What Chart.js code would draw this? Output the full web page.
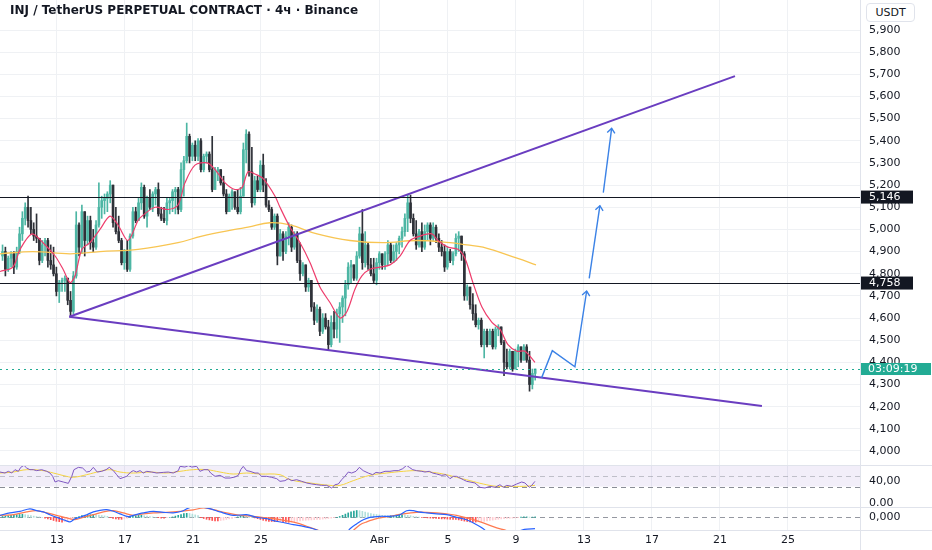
<!DOCTYPE html>
<html>
<head>
<meta charset="utf-8">
<script src="https://cdn.jsdelivr.net/npm/chart.js@4.4.1/dist/chart.umd.min.js"></script>
<style>
  html, body { margin: 0; padding: 0; background: #fff; }
  body { position: relative; width: 932px; height: 550px; overflow: hidden; font-family: 'DejaVu Sans', sans-serif; }
  canvas { position: absolute; left: 0; }
  #c-main { top: 0; }
  #c-rsi { top: 458px; }
  #c-macd { top: 507px; }
  .hsep { position: absolute; left: 0; width: 932px; height: 1px; background: #e0e3eb; }
  #vsep { position: absolute; left: 860px; top: 0; width: 1px; height: 550px; background: #e0e3eb; }
  #title { position: absolute; left: 10px; top: 3px; font-size: 12px; font-weight: bold; color: #131722; white-space: nowrap; }
  #unit { position: absolute; left: 866px; top: 3px; width: 47px; height: 17px; border: 1px solid #e0e3eb; border-radius: 4px;
          font-size: 11px; line-height: 17px; text-align: center; color: #131722; background: #fff; }
</style>
</head>
<body>
<canvas id="c-main" width="932" height="465"></canvas>
<canvas id="c-rsi" width="932" height="56"></canvas>
<canvas id="c-macd" width="932" height="43"></canvas>
<div class="hsep" style="top:465px"></div>
<div class="hsep" style="top:507px"></div>
<div class="hsep" style="top:530px"></div>
<div id="vsep"></div>
<div id="title">INJ / TetherUS PERPETUAL CONTRACT · 4ч · Binance</div>
<div id="unit">USDT</div>
<script>
// ---- data (days counted from 1 Jul = 1, so 1 Aug = 32) ----
const candleStart = 9.8;        // first visible 4h candle
const candleStep = 1 / 6;       // 4h
const firstOpen = 4.88;

const closes = [
  4.90,4.82,4.87,4.89,4.83,4.90,4.98,5.05,5.10,5.04,5.00,4.97,
  4.96,4.86,4.93,4.95,4.86,4.84,4.80,4.72,4.76,4.77,4.78,4.68,
  4.63,4.79,5.02,4.92,5.08,4.95,5.04,4.94,4.92,5.02,5.10,5.13,
  5.14,5.16,5.20,5.03,4.99,4.95,4.85,4.90,4.82,4.97,5.08,5.04,
  5.12,5.19,5.06,5.14,5.10,5.16,5.18,5.07,5.05,5.04,5.12,5.13,
  5.17,5.18,5.09,5.27,5.31,5.42,5.33,5.38,5.33,5.40,5.27,5.33,
  5.34,5.27,5.18,5.26,5.27,5.21,5.16,5.08,5.15,5.17,5.10,5.08,
  5.15,5.36,5.43,5.26,5.12,5.22,5.18,5.29,5.20,5.11,5.09,5.01,
  5.06,
  4.88,4.98,4.90,4.97,5.01,4.92,4.98,4.86,4.80,4.84,4.74,4.77,
  4.65,4.59,4.64,4.54,4.60,4.56,4.48,4.58,4.55,4.62,4.65,4.69,
  4.75,4.83,4.84,4.78,4.88,4.98,4.85,4.93,4.84,4.80,4.77,4.85,
  4.89,4.84,4.89,4.93,4.86,4.90,4.93,4.96,4.99,5.05,5.12,
  5.05,4.98,4.93,4.99,4.92,4.99,5.02,4.96,5.01,4.96,4.92,4.90,
  4.83,4.90,4.86,4.89,4.96,4.97,4.89,4.70,4.74,4.66,4.62,4.57,
  4.59,4.48,4.54,4.48,4.54,4.47,4.55,4.56,4.49,4.40,4.38,4.45,
  4.37,4.45,4.47,4.41,4.47,4.41,4.30,4.35,4.37
];
const highs = [
  4.93,4.92,4.88,4.90,4.90,4.92,5.01,5.08,5.12,5.15,5.10,5.03,
  5.07,4.96,4.95,4.96,4.96,4.93,4.92,4.83,4.77,4.78,4.79,4.78,
  4.72,4.81,5.08,5.03,5.11,5.08,5.06,5.06,5.00,5.04,5.21,5.15,
  5.16,5.17,5.22,5.20,5.10,5.06,4.96,4.91,4.95,4.98,5.10,5.10,
  5.14,5.21,5.20,5.15,5.18,5.17,5.19,5.21,5.10,5.10,5.14,5.14,
  5.18,5.19,5.19,5.30,5.33,5.48,5.43,5.39,5.40,5.41,5.41,5.34,
  5.35,5.35,5.42,5.28,5.28,5.27,5.24,5.18,5.16,5.18,5.17,5.18,
  5.19,5.39,5.45,5.44,5.37,5.24,5.24,5.31,5.34,5.23,5.13,5.10,
  5.07,
  5.07,5.00,4.99,4.99,5.03,5.02,4.99,4.99,4.94,4.85,4.84,4.78,
  4.77,4.67,4.66,4.65,4.62,4.62,4.59,4.61,4.63,4.64,4.67,4.70,
  4.77,4.85,4.86,4.84,4.90,5.01,5.09,4.99,4.94,4.87,4.87,4.87,
  4.90,4.89,4.90,4.95,4.94,4.93,4.94,4.97,5.01,5.07,5.155,
  5.155,5.07,5.04,5.00,5.03,5.02,5.03,5.03,5.03,5.02,4.98,4.95,
  4.93,4.92,4.91,4.90,4.98,4.99,4.97,4.90,4.75,4.74,4.71,4.66,
  4.60,4.60,4.55,4.55,4.55,4.55,4.56,4.57,4.56,4.50,4.46,4.46,
  4.45,4.46,4.48,4.47,4.48,4.48,4.45,4.37,4.37
];
const lows = [
  4.86,4.79,4.81,4.83,4.80,4.82,4.89,4.95,5.02,5.01,4.98,4.95,
  4.94,4.84,4.85,4.88,4.83,4.82,4.79,4.70,4.67,4.72,4.72,4.66,
  4.61,4.62,4.78,4.88,4.89,4.88,4.93,4.91,4.90,4.91,5.01,5.05,
  5.07,5.08,5.12,5.01,4.98,4.94,4.84,4.82,4.81,4.81,4.96,5.03,
  5.04,5.09,5.05,5.01,5.09,5.08,5.11,5.06,5.04,5.03,5.02,5.07,
  5.08,5.07,5.07,5.08,5.15,5.30,5.30,5.31,5.31,5.31,5.26,5.26,
  5.30,5.26,5.17,5.18,5.22,5.20,5.15,5.07,5.08,5.09,5.09,5.07,
  5.07,5.15,5.30,5.24,5.10,5.11,5.17,5.17,5.17,5.10,5.08,5.00,
  5.00,
  4.84,4.88,4.86,4.89,4.93,4.90,4.91,4.85,4.77,4.79,4.72,4.72,
  4.63,4.57,4.58,4.52,4.53,4.55,4.455,4.47,4.51,4.51,4.49,4.58,
  4.61,4.73,4.76,4.77,4.77,4.87,4.82,4.83,4.82,4.79,4.76,4.75,
  4.82,4.82,4.82,4.84,4.85,4.85,4.86,4.89,4.92,4.97,4.99,
  5.03,4.97,4.91,4.92,4.90,4.91,4.95,4.93,4.95,4.94,4.90,4.88,
  4.81,4.82,4.85,4.84,4.88,4.90,4.86,4.68,4.68,4.64,4.59,4.56,
  4.55,4.47,4.42,4.47,4.48,4.46,4.46,4.52,4.48,4.34,4.37,4.37,
  4.36,4.37,4.38,4.40,4.41,4.40,4.27,4.28,4.32
];

// moving averages on the price pane
const emaDays = [9.65,10.41,10.83,11.53,12.18,12.89,13.36,13.77,14.06,14.47,14.94,15.53,16.12,16.59,17.18,17.77,18.0,18.77,19.53,20.12,
  20.53,21.12,21.83,22.3,22.89,23.47,23.89,24.24,24.65,25.12,25.83,26.12,26.71,27.3,27.89,28.47,29.06,29.65,30.06,30.53,
  30.94,31.41,32.0,32.59,33.18,33.77,34.36,35.06,35.41,36.0,36.59,37.0,37.47,38.0,38.59,39.06,39.53,40.06,40.53,41.12];
const emaVals = [4.81,4.83,4.91,4.98,4.94,4.88,4.82,4.76,4.79,4.91,4.94,5.00,5.06,5.02,4.95,5.04,5.06,5.10,5.09,5.11,
  5.21,5.29,5.30,5.27,5.21,5.18,5.19,5.26,5.25,5.23,5.15,5.10,5.01,4.94,4.85,4.74,4.67,4.60,4.63,4.73,
  4.79,4.82,4.83,4.84,4.88,4.95,4.97,4.98,4.95,4.92,4.91,4.87,4.76,4.65,4.58,4.55,4.48,4.45,4.45,4.40];
const maDays = [9.65,11.59,13.77,15.53,17.77,20.12,21.53,23.47,24.24,25.53,26.71,28.3,30.24,32.18,34.18,36.12,37.12,38.06,40.06,41.18];
const maVals = [4.89,4.90,4.89,4.90,4.91,4.94,4.97,5.00,5.01,5.03,5.02,4.98,4.95,4.94,4.95,4.94,4.93,4.92,4.87,4.84];

// drawings
const levels = [5.146, 4.758];
const upperDays = [13.726, 52.885], upperVals = [4.606, 5.692];
const lowerDays = [13.726, 54.47],  lowerVals = [4.606, 4.203];
const arrow1Days = [41.51, 42.14, 43.47, 44.16], arrow1Vals = [4.330, 4.453, 4.380, 4.722];
const arrow2Days = [44.31, 44.94], arrow2Vals = [4.779, 5.107];
const arrow3Days = [45.14, 45.63], arrow3Vals = [5.166, 5.456];
const countdown = '03:09:19';

// RSI pane
const rsiDays = [9.65,9.94,10.14,10.34,10.53,10.73,10.87,11.06,11.22,11.41,11.61,11.81,12.10,12.40,12.59,12.75,12.89,13.08,13.37,13.67,
  13.87,14.00,14.26,14.51,14.75,14.94,15.14,15.37,15.63,15.89,16.08,16.32,16.51,16.71,16.94,17.10,17.34,17.49,17.69,17.89,
  18.08,18.28,18.57,18.87,19.26,19.55,19.84,20.14,20.24,20.53,20.73,20.93,21.22,21.41,21.65,21.90,22.04,22.30,22.59,22.89,
  23.18,23.47,23.67,23.81,23.96,24.16,24.36,24.65,24.84,25.04,25.34,25.63,25.93,26.12,26.41,26.61,26.81,27.10,27.40,27.69,
  27.99,28.28,28.57,28.87,29.16,29.36,29.55,29.75,29.94,30.14,30.34,30.59,30.79,31.02,31.31,31.57,31.77,32.00,32.30,32.59,
  32.83,33.08,33.34,33.57,33.73,33.93,34.16,34.46,34.65,34.90,35.10,35.34,35.63,35.89,36.12,36.32,36.51,36.71,36.90,37.10,
  37.30,37.59,37.89,38.18,38.47,38.77,39.06,39.26,39.46,39.75,40.04,40.34,40.53,40.79,40.93,41.12];
const rsiVals = [56.3,54.5,57.6,54.5,60.6,57.6,64.8,68.5,63.6,60.6,60.6,58.8,60.6,57.6,54.5,48.5,38.2,40.6,38.2,35.7,
  48.5,60.6,64.8,63.6,56.3,57.6,64.8,56.3,57.6,60.6,64.8,58.8,51.5,44.2,46.7,48.5,56.3,58.8,56.3,58.8,
  54.5,57.6,56.3,54.5,55.7,56.3,54.5,58.8,66.6,65.4,67.9,65.4,66.6,57.6,60.6,60.6,54.5,48.5,50.3,45.4,
  45.4,47.3,50.3,60.6,66.6,58.8,57.6,54.5,54.5,48.5,48.5,46.7,44.2,39.4,40.6,44.2,40.6,42.4,39.4,36.4,
  34.5,33.3,32.1,32.1,27.3,33.3,34.5,42.4,48.5,56.3,54.5,57.6,64.8,58.8,54.5,51.5,55.7,54.5,57.6,57.6,
  58.8,58.8,62.4,68.5,64.8,60.6,58.8,57.6,56.3,57.6,54.5,52.7,50.3,51.5,44.2,48.5,48.5,45.4,42.4,39.4,
  38.2,36.4,28.5,27.3,30.3,28.5,33.3,28.5,32.1,30.3,34.5,38.2,36.4,28.5,32.1,39.4];
const rsiMaDays = [9.65,10.43,11.22,12.20,12.79,13.57,13.96,14.75,15.53,16.12,16.71,17.49,18.47,19.45,20.24,21.02,21.81,22.59,23.37,24.16,
  24.94,26.12,26.71,27.89,29.06,29.65,30.43,31.41,32.40,33.37,34.16,34.94,35.73,36.51,37.30,38.08,38.87,39.65,40.43,41.12];
const rsiMaVals = [54.5,56.3,60.6,58.8,54.5,48.5,46.7,51.5,57.6,60.6,56.3,54.5,56.3,54.5,57.6,60.6,60.6,56.3,52.7,54.5,
  52.7,51.5,42.4,36.4,32.1,32.1,40.6,50.3,54.5,57.6,58.8,56.3,52.7,46.7,40.6,34.5,30.3,30.3,30.3,32.1];
const rsiBand = [70, 30];
const rsiMid = 50;
const rsiTicks = [0, 40], rsiTickLabels = ['0.00', '40,00'];

// MACD pane
const macdDays = [9.65,10.24,10.83,11.41,11.81,12.20,12.59,13.08,13.47,13.77,14.06,14.36,14.75,15.14,15.53,15.93,16.32,16.71,17.20,17.49,
  18.08,18.67,19.26,19.84,20.34,20.83,21.41,22.00,22.59,23.37,24.16,24.75,25.34,25.73,26.32,26.90,27.49,28.08,28.67,29.46,
  30.04,30.24,30.63,31.02,31.41,32.00,32.59,33.18,33.57,33.96,34.26,34.75,35.34,35.93,36.51,37.10,37.69,38.08,38.47,39.10,
  40.00,40.50,41.12];
const macdVals = [0.010,0.022,0.030,0.042,0.033,0.027,0.013,-0.003,-0.015,-0.023,-0.007,0.000,0.013,0.027,0.035,0.038,0.030,0.017,0.003,0.010,
  0.022,0.030,0.025,0.022,0.030,0.050,0.052,0.043,0.027,0.010,0.013,0.000,-0.007,-0.017,-0.026,-0.037,-0.045,-0.057,-0.078,-0.112,
  -0.078,-0.057,-0.033,-0.012,0.000,0.005,0.005,0.013,0.033,0.033,0.027,0.022,0.017,0.013,0.000,-0.012,-0.037,-0.057,-0.087,-0.095,
  -0.075,-0.060,-0.057];
const signalDays = [9.65,10.43,11.22,11.81,12.40,12.98,13.57,14.06,14.55,15.14,15.73,16.32,16.90,17.49,18.08,18.67,19.45,20.24,21.02,21.61,
  22.20,22.98,23.77,24.55,25.34,26.12,27.10,27.69,28.28,28.87,29.55,30.24,30.83,31.22,31.81,32.59,33.37,34.16,34.75,35.34,
  35.93,36.51,37.30,38.08,38.87,39.26,40.04,41.12];
const signalVals = [0.010,0.013,0.027,0.033,0.022,0.010,-0.003,-0.012,0.000,0.013,0.027,0.033,0.022,0.010,0.017,0.022,0.025,0.030,0.037,0.047,
  0.038,0.022,0.010,0.005,-0.003,-0.012,-0.028,-0.045,-0.062,-0.083,-0.100,-0.078,-0.037,-0.023,-0.007,0.005,0.017,0.025,0.025,0.022,
  0.017,0.010,-0.007,-0.028,-0.053,-0.062,-0.080,-0.085];
const macdHist = [
  0.004,0.006,0.008,0.010,0.012,0.013,0.014,0.015,0.013,0.011,0.009,0.006,
  0.004,0.002,0.000,-0.004,-0.008,-0.012,-0.016,-0.020,-0.022,-0.024,-0.022,-0.018,
  -0.012,-0.006,0.000,0.004,0.008,0.010,0.012,0.013,0.014,0.013,0.011,0.009,
  0.007,0.005,-0.002,-0.005,-0.008,-0.010,-0.010,-0.008,-0.005,0.002,0.005,0.008,
  0.010,0.010,0.008,0.006,0.004,0.002,0.000,-0.002,-0.004,-0.004,-0.002,0.000,
  0.002,0.006,0.010,0.014,0.018,0.020,0.019,0.016,0.012,0.008,-0.002,-0.006,
  -0.010,-0.013,-0.016,-0.018,-0.018,-0.016,-0.014,-0.011,-0.008,-0.005,-0.002,0.002,
  0.005,0.007,0.006,0.004,0.002,-0.003,-0.007,-0.011,-0.015,-0.018,-0.020,-0.021,
  -0.022,-0.022,-0.021,-0.022,-0.024,-0.025,-0.024,-0.022,-0.020,-0.018,-0.016,-0.015,
  -0.014,-0.013,-0.012,-0.011,-0.010,-0.009,-0.008,-0.006,-0.004,-0.002,0.000,0.004,
  0.010,0.016,0.022,0.027,0.031,0.034,0.033,0.030,0.026,0.022,0.019,0.016,
  0.014,0.012,0.010,0.009,0.008,0.008,0.009,0.011,0.013,0.014,0.012,0.010,
  0.008,0.005,0.003,0.001,-0.001,-0.002,-0.003,-0.004,-0.005,-0.006,-0.007,-0.008,
  -0.008,-0.009,-0.010,-0.010,-0.011,-0.013,-0.016,-0.019,-0.021,-0.023,-0.024,-0.024,
  -0.023,-0.022,-0.020,-0.018,-0.016,-0.014,-0.012,-0.010,-0.008,-0.007,-0.006,-0.005,
  -0.004,-0.003,-0.002,0.001,0.002,0.002,0.001,0.001,0.002
];
const macdTicks = [0], macdTickLabels = ['0,000'];

// axes
const dayTicks = [13, 17, 21, 25, 32, 36, 40, 44, 48, 52, 56];
const dayLabels = ['13', '17', '21', '25', 'Авг', '5', '9', '13', '17', '21', '25'];
const priceTicks = [4.0,4.1,4.2,4.3,4.4,4.5,4.6,4.7,4.8,4.9,5.0,5.1,5.2,5.3,5.4,5.5,5.6,5.7,5.8,5.9];
const X_MIN = 9.65, X_MAX = 60.24;
const PRICE_MIN = 3.9368, PRICE_MAX = 6.0354;
const RSI_MIN = -7.27, RSI_MAX = 69.1;
const MACD_MIN = -0.0635, MACD_MAX = 0.0515;

// ---- styling ----
const FONT = "'DejaVu Sans', sans-serif";
const TXT = '#131722';
const UP = '#4db6a4', DOWN = '#2e3138';
const GRID = '#eff1f4';

const opens = closes.map((c, i) => i === 0 ? firstOpen : closes[i - 1]);
const times = closes.map((_, i) => candleStart + i * candleStep);
const candleCol = closes.map((c, i) => c >= opens[i] ? UP : DOWN);
const pts = (xs, ys) => xs.map((x, i) => ({ x, y: ys[i] }));
const fmtPrice = v => v.toFixed(3).replace('.', ',');

function xScale(labels) {
  return {
    type: 'linear', min: X_MIN, max: X_MAX, offset: false,
    grid: { color: GRID, drawTicks: false, offset: false },
    border: { display: false },
    afterBuildTicks: s => { s.ticks = dayTicks.map(v => ({ value: v })); },
    ticks: labels
      ? { autoSkip: false, maxRotation: 0, padding: 4, color: TXT, font: { family: FONT, size: 11 },
          callback: (v, i) => dayLabels[i] }
      : { display: false },
    afterFit: s => { s.height = labels ? 20 : 0; s.paddingLeft = 0; s.paddingRight = 0; },
  };
}
function yScale(min, max, ticks, fmt, grid) {
  return {
    type: 'linear', position: 'right', min, max,
    grid: { display: grid, color: GRID, drawTicks: false },
    border: { display: false },
    afterBuildTicks: s => { s.ticks = ticks.map(v => ({ value: v })); },
    ticks: { autoSkip: false, padding: 9, color: TXT, font: { family: FONT, size: 11 }, callback: fmt },
    afterFit: s => { s.width = 72; s.paddingTop = 0; s.paddingBottom = 0; },
  };
}
const baseOpts = {
  responsive: false, animation: false, events: [],
  plugins: { legend: { display: false }, tooltip: { enabled: false } },
};

// ---- price pane ----
const mainOverlay = {
  id: 'mainOverlay',
  afterDatasetsDraw(chart) {
    const { ctx, chartArea: a, scales: { y } } = chart;
    ctx.save();
    ctx.beginPath(); ctx.rect(a.left, a.top, a.right - a.left, a.bottom - a.top); ctx.clip();
    ctx.strokeStyle = TXT; ctx.lineWidth = 1;
    levels.forEach(v => {
      const py = Math.round(y.getPixelForValue(v)) + 0.5;
      ctx.beginPath(); ctx.moveTo(a.left, py); ctx.lineTo(a.right, py); ctx.stroke();
    });
    const lp = Math.round(y.getPixelForValue(closes[closes.length - 1])) + 0.5;
    ctx.strokeStyle = '#22ab94'; ctx.setLineDash([2, 4]);
    ctx.beginPath(); ctx.moveTo(a.left, lp); ctx.lineTo(a.right, lp); ctx.stroke();
    ctx.setLineDash([]);
    chart.data.datasets.forEach((ds, i) => {
      if (!ds.arrowHead) return;
      const el = chart.getDatasetMeta(i).data;
      const p = el[el.length - 1], q = el[el.length - 2];
      const ang = Math.atan2(p.y - q.y, p.x - q.x), L = 6, w = 0.7;
      ctx.strokeStyle = ds.borderColor; ctx.lineWidth = 1.4;
      ctx.beginPath();
      ctx.moveTo(p.x - L * Math.cos(ang - w), p.y - L * Math.sin(ang - w));
      ctx.lineTo(p.x, p.y);
      ctx.lineTo(p.x - L * Math.cos(ang + w), p.y - L * Math.sin(ang + w));
      ctx.stroke();
    });
    ctx.restore();
  },
  afterDraw(chart) {
    const { ctx, chartArea: a, scales: { y } } = chart;
    ctx.save();
    ctx.font = '11px ' + FONT; ctx.textBaseline = 'middle'; ctx.textAlign = 'left';
    levels.forEach(v => {
      const py = y.getPixelForValue(v);
      ctx.fillStyle = TXT; ctx.fillRect(a.right + 1, py - 6.5, 52, 13);
      ctx.fillStyle = '#fff'; ctx.fillText(fmtPrice(v), a.right + 9, py);
    });
    const lp = y.getPixelForValue(closes[closes.length - 1]);
    ctx.fillStyle = '#22ab94'; ctx.fillRect(a.right + 1, lp - 6, 70, 12);
    ctx.fillStyle = '#fff'; ctx.fillText(countdown, a.right + 8, lp);
    ctx.restore();
  },
};

const lineDs = (data, color, width, order, extra) =>
  Object.assign({ type: 'line', data, borderColor: color, borderWidth: width, pointRadius: 0, fill: false, order }, extra || {});

new Chart(document.getElementById('c-main'), {
  type: 'bar',
  data: { datasets: [
    { type: 'bar', data: times.map((t, i) => ({ x: t, y: [lows[i], highs[i]] })), backgroundColor: candleCol,
      barThickness: 1, grouped: false, order: 11 },
    { type: 'bar', data: times.map((t, i) => ({ x: t, y: [opens[i], closes[i]] })), backgroundColor: candleCol,
      barThickness: 2, minBarLength: 1, grouped: false, order: 10 },
    lineDs(pts(maDays, maVals), '#f8c552', 1.3, 6, { tension: 0.4 }),
    lineDs(pts(emaDays, emaVals), '#ee3d6c', 1.2, 5, { tension: 0.3 }),
    lineDs(pts(upperDays, upperVals), '#6a3dc0', 2, 3),
    lineDs(pts(lowerDays, lowerVals), '#6a3dc0', 2, 3),
    lineDs(pts(arrow1Days, arrow1Vals), '#3b82e6', 1.4, 2, { arrowHead: true }),
    lineDs(pts(arrow2Days, arrow2Vals), '#3b82e6', 1.4, 2, { arrowHead: true }),
    lineDs(pts(arrow3Days, arrow3Vals), '#3b82e6', 1.4, 2, { arrowHead: true }),
  ]},
  options: Object.assign({}, baseOpts, {
    layout: { padding: 0 },
    scales: { x: xScale(false), y: yScale(PRICE_MIN, PRICE_MAX, priceTicks, v => fmtPrice(v), true) },
  }),
  plugins: [mainOverlay],
});

// ---- RSI pane ----
const rsiGuides = {
  id: 'rsiGuides',
  beforeDatasetsDraw(chart) {
    const { ctx, chartArea: a, scales: { y } } = chart;
    ctx.save();
    ctx.beginPath(); ctx.rect(a.left, a.top, a.right - a.left, a.bottom - a.top); ctx.clip();
    const yt = y.getPixelForValue(rsiBand[0]), yb = y.getPixelForValue(rsiBand[1]);
    ctx.fillStyle = 'rgba(126, 87, 194, 0.1)';
    ctx.fillRect(a.left, yt, a.right - a.left, yb - yt);
    ctx.setLineDash([5, 4]); ctx.lineWidth = 1;
    [[rsiBand[0], '#9598a1'], [rsiMid, 'rgba(149,152,161,0.55)'], [rsiBand[1], '#8a8d96']].forEach(([v, c]) => {
      const py = Math.round(y.getPixelForValue(v)) + 0.5;
      ctx.strokeStyle = c; ctx.beginPath(); ctx.moveTo(a.left, py); ctx.lineTo(a.right, py); ctx.stroke();
    });
    ctx.restore();
  },
};
new Chart(document.getElementById('c-rsi'), {
  type: 'line',
  data: { datasets: [
    lineDs(pts(rsiDays, rsiVals), '#7e57c2', 1, 1),
    lineDs(pts(rsiMaDays, rsiMaVals), '#f5d442', 1, 2, { tension: 0.4 }),
  ]},
  options: Object.assign({}, baseOpts, {
    layout: { padding: { top: 7, bottom: 7 } },
    scales: { x: xScale(false), y: yScale(RSI_MIN, RSI_MAX, rsiTicks, (v, i) => rsiTickLabels[i], false) },
  }),
  plugins: [rsiGuides],
});

// ---- MACD pane ----
const histCol = macdHist.map((v, i) => {
  const p = i > 0 ? macdHist[i - 1] : 0;
  if (v >= 0) return v >= p ? '#26a69a' : '#b2dfdb';
  return v <= p ? '#ff5252' : '#ffcdd2';
});
const zeroLine = {
  id: 'zeroLine',
  beforeDatasetsDraw(chart) {
    const { ctx, chartArea: a, scales: { y } } = chart;
    const py = Math.round(y.getPixelForValue(0)) + 0.5;
    ctx.save(); ctx.setLineDash([5, 4]); ctx.strokeStyle = '#9598a1'; ctx.lineWidth = 1;
    ctx.beginPath(); ctx.moveTo(a.left, py); ctx.lineTo(a.right, py); ctx.stroke();
    ctx.restore();
  },
};
new Chart(document.getElementById('c-macd'), {
  type: 'bar',
  data: { datasets: [
    { type: 'bar', data: times.map((t, i) => ({ x: t, y: macdHist[i] })), backgroundColor: histCol,
      barThickness: 1, grouped: false, order: 5 },
    lineDs(pts(signalDays, signalVals), '#ff7a50', 1.2, 3, { tension: 0.3 }),
    lineDs(pts(macdDays, macdVals), '#2962ff', 1.2, 2, { tension: 0.3 }),
  ]},
  options: Object.assign({}, baseOpts, {
    layout: { padding: 0 },
    scales: { x: xScale(true), y: yScale(MACD_MIN, MACD_MAX, macdTicks, (v, i) => macdTickLabels[i], false) },
  }),
  plugins: [zeroLine],
});
</script>
</body>
</html>
